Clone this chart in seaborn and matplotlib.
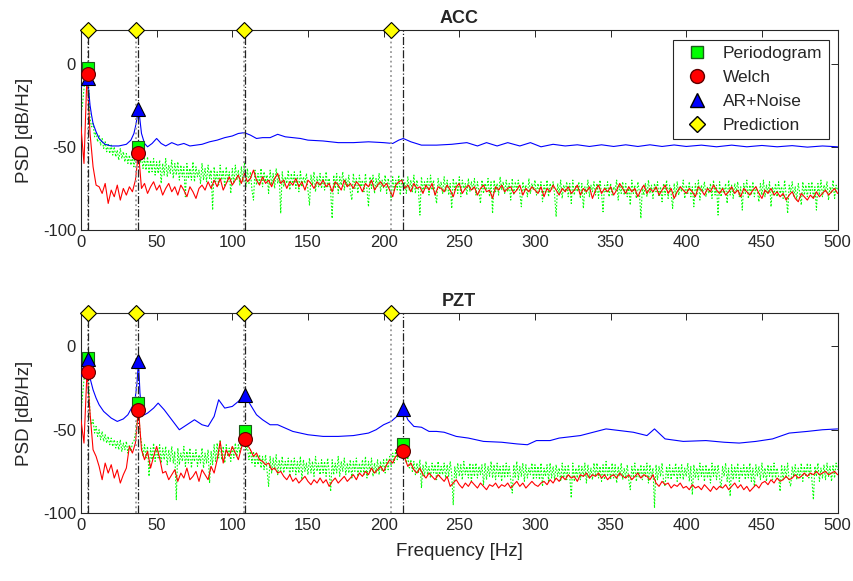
import numpy as np
import pandas as pd
import matplotlib
matplotlib.use("Agg")
import matplotlib.pyplot as plt
import seaborn as sns
from matplotlib.lines import Line2D

# ---------------- data ----------------
per_step = 1    # Hz grid of periodogram estimates
welch_step = 2  # Hz grid of Welch estimates

acc_periodogram = [
    -30, -25, -15, -6, -3, -12, -33, -38, -36, -44, -41, -47, -43, -49, -45, -51, -47, -53, -48, -54,
    -49, -55, -50, -56, -52, -58, -51, -57, -53, -59, -54, -60, -55, -61, -56, -62, -54, -52, -50, -60,
    -56, -63, -57, -64, -56, -66, -58, -65, -57, -67, -59, -66, -58, -72, -60, -67, -57, -68, -61, -66,
    -58, -69, -60, -67, -59, -70, -61, -68, -62, -80, -60, -69, -63, -70, -59, -71, -62, -68, -64, -72,
    -60, -70, -63, -71, -61, -69, -64, -88, -62, -71, -65, -73, -61, -70, -64, -74, -62, -71, -65, -78,
    -63, -72, -61, -70, -64, -73, -62, -71, -60, -74, -63, -72, -65, -76, -82, -64, -73, -66, -72, -63,
    -74, -65, -71, -67, -78, -64, -73, -66, -75, -63, -72, -67, -90, -65, -74, -68, -72, -64, -76, -66,
    -73, -65, -75, -67, -77, -64, -74, -68, -72, -66, -76, -85, -67, -73, -65, -77, -68, -74, -66, -75,
    -68, -76, -65, -74, -69, -77, -93, -67, -75, -66, -78, -68, -73, -65, -76, -69, -74, -67, -77, -82,
    -66, -75, -69, -78, -67, -74, -70, -77, -66, -76, -86, -68, -75, -67, -78, -69, -74, -66, -77, -70,
    -75, -67, -78, -69, -74, -82, -68, -77, -70, -76, -67, -79, -69, -75, -71, -78, -68, -76, -70, -77,
    -67, -78, -70, -76, -91, -68, -77, -71, -75, -69, -79, -67, -76, -70, -78, -84, -69, -75, -71, -78,
    -68, -77, -70, -79, -72, -87, -69, -76, -71, -78, -68, -80, -70, -75, -72, -79, -69, -77, -71, -76,
    -69, -79, -71, -77, -84, -70, -78, -72, -76, -69, -80, -71, -90, -70, -77, -72, -79, -68, -76, -71,
    -78, -70, -77, -72, -82, -69, -79, -71, -76, -70, -78, -86, -71, -77, -73, -80, -69, -78, -72, -76,
    -70, -79, -72, -77, -71, -83, -73, -78, -70, -80, -72, -76, -71, -79, -92, -72, -78, -70, -81, -73,
    -77, -71, -80, -72, -84, -70, -79, -73, -77, -71, -81, -72, -87, -74, -78, -70, -80, -73, -77, -71,
    -79, -72, -81, -70, -78, -89, -73, -77, -71, -80, -72, -79, -74, -76, -70, -82, -73, -78, -71, -79,
    -72, -80, -74, -85, -70, -78, -73, -81, -71, -77, -93, -74, -79, -72, -80, -70, -78, -73, -81, -72,
    -77, -71, -80, -74, -83, -72, -79, -70, -81, -73, -78, -87, -72, -80, -71, -79, -74, -77, -70, -81,
    -73, -78, -71, -80, -74, -86, -72, -79, -70, -82, -73, -77, -71, -80, -74, -78, -72, -81, -70, -79,
    -73, -91, -71, -80, -74, -78, -72, -84, -70, -79, -73, -81, -72, -77, -71, -80, -74, -88, -72, -78,
    -70, -81, -73, -79, -71, -80, -74, -77, -83, -72, -79, -70, -80, -73, -78, -71, -86, -74, -79, -72,
    -80, -71, -78, -74, -81, -70, -79, -90, -73, -77, -71, -80, -74, -82, -72, -78, -85, -71, -79, -73,
    -80, -72, -78, -71, -81, -74, -88, -72, -79, -70, -80, -73, -77, -71, -82, -74, -78, -70, -81, -73,
    -76,
]
acc_welch = [
    -38, -60, -6, -42, -62, -73, -74, -78, -72, -84,
    -76, -80, -73, -82, -75, -79, -74, -77, -70, -53,
    -75, -72, -78, -74, -71, -76, -73, -79, -75, -72,
    -77, -74, -79, -73, -76, -80, -74, -77, -81, -75,
    -73, -76, -71, -75, -70, -74, -69, -76, -72, -68,
    -73, -70, -67, -72, -66, -71, -69, -64, -70, -73,
    -68, -72, -70, -74, -69, -66, -72, -70, -75, -71,
    -73, -69, -74, -71, -76, -70, -72, -75, -71, -73,
    -70, -74, -72, -77, -71, -73, -76, -70, -74, -72,
    -75, -71, -73, -77, -72, -74, -70, -76, -73, -71,
    -74, -72, -76, -80, -73, -71, -70, -75, -73, -77,
    -72, -75, -74, -78, -73, -76, -72, -79, -74, -75,
    -77, -73, -76, -80, -74, -72, -78, -75, -73, -76,
    -74, -79, -75, -73, -77, -76, -81, -74, -76, -73,
    -77, -75, -74, -78, -76, -73, -79, -75, -77, -74,
    -76, -78, -74, -80, -75, -77, -73, -76, -79, -75,
    -77, -74, -78, -76, -73, -79, -75, -77, -74, -81,
    -76, -73, -78, -75, -77, -74, -79, -76, -72, -75,
    -78, -74, -77, -75, -80, -76, -73, -78, -75, -77,
    -74, -79, -76, -73, -78, -75, -81, -77, -74, -76,
    -78, -75, -77, -80, -74, -76, -79, -75, -77, -73,
    -76, -78, -75, -79, -77, -74, -78, -76, -80, -75,
    -77, -79, -76, -74, -78, -81, -76, -78, -75, -79,
    -77, -80, -78, -82, -79, -77, -81, -83, -78, -80,
    -82, -79, -81, -77, -80, -78, -76, -79, -77, -75,
    -78,
]
acc_ar_freq = [
    0, 1, 2, 3, 4, 5, 6, 7, 8, 10,
    12, 14, 16, 20, 25, 30, 33, 35, 36, 37,
    38, 39, 40, 42, 44, 47, 50, 53, 56, 60,
    64, 68, 72, 76, 80, 85, 90, 95, 100, 104,
    108, 112, 116, 120, 125, 130, 135, 140, 145, 150,
    160, 170, 180, 190, 200, 206, 210, 213, 218, 225,
    235, 245, 255, 262, 268, 275, 282, 290, 297, 304,
    312, 320, 328, 336, 344, 352, 360, 368, 376, 384,
    392, 400, 410, 420, 430, 440, 450, 460, 470, 480,
    490, 500,
]
acc_ar = [
    -14, -13, -12, -10, -7, -15, -25, -31, -36, -41,
    -45, -47, -48.5, -49.5, -49.5, -48.5, -46, -42, -38, -33,
    -26, -34, -42, -48, -50, -48, -45, -48, -49.5, -47.5,
    -49, -48, -49.5, -49, -48.5, -47, -46, -44.5, -43.5, -42,
    -41.5, -43, -45, -44.5, -44.5, -42.5, -44, -44.5, -45, -46,
    -46.5, -47.5, -47.5, -47, -47.5, -48, -46, -45, -47, -49,
    -49, -48.5, -47.5, -49.5, -47.5, -49.5, -47.5, -49.5, -47.5, -50,
    -48.5, -49.5, -48.8, -49.8, -48.8, -49.8, -48.8, -49.8, -48.8, -49.8,
    -48.9, -49.8, -49, -50, -49, -50, -49.2, -50, -49.3, -50.2,
    -49.5, -50,
]

pzt_periodogram = [
    -40, -30, -20, -12, -8, -18, -42, -47, -44, -52, -48, -54, -50, -56, -51, -57, -53, -58, -54, -59,
    -55, -60, -56, -61, -57, -62, -56, -63, -58, -62, -57, -64, -59, -63, -58, -57, -52, -45, -34, -52,
    -58, -66, -59, -67, -60, -78, -61, -68, -58, -69, -62, -67, -59, -70, -61, -68, -60, -71, -62, -69,
    -60, -70, -63, -92, -61, -71, -64, -69, -60, -72, -63, -70, -61, -73, -64, -69, -62, -72, -65, -70,
    -61, -73, -64, -70, -62, -82, -63, -71, -59, -69, -58, -67, -56, -68, -60, -70, -59, -66, -61, -69,
    -60, -67, -58, -66, -59, -64, -56, -60, -51, -62, -60, -68, -62, -70, -63, -72, -64, -71, -65, -73,
    -66, -74, -65, -75, -84, -66, -76, -67, -74, -65, -77, -68, -75, -66, -76, -69, -74, -67, -78, -68,
    -75, -67, -77, -69, -76, -66, -80, -68, -75, -70, -77, -67, -76, -69, -78, -66, -75, -70, -77, -68,
    -76, -69, -78, -67, -75, -87, -68, -77, -70, -76, -66, -78, -69, -75, -67, -77, -70, -76, -68, -79,
    -69, -75, -67, -78, -70, -76, -68, -77, -66, -79, -69, -75, -67, -78, -70, -76, -68, -77, -69, -75,
    -68, -76, -67, -74, -66, -72, -64, -70, -62, -68, -61, -66, -60, -59, -64, -70, -66, -73, -68, -75,
    -69, -77, -70, -76, -68, -85, -71, -78, -69, -77, -72, -79, -70, -76, -71, -80, -69, -78, -72, -77,
    -70, -79, -71, -78, -69, -77, -95, -72, -79, -70, -78, -71, -80, -69, -77, -72, -79, -70, -81, -71,
    -78, -70, -79, -72, -77, -71, -83, -70, -80, -72, -78, -69, -79, -71, -80, -70, -78, -72, -81, -71,
    -79, -70, -78, -72, -80, -88, -71, -79, -69, -80, -72, -78, -70, -81, -71, -79, -73, -77, -70, -80,
    -71, -79, -72, -80, -70, -84, -73, -78, -71, -81, -70, -79, -72, -80, -71, -78, -73, -81, -70, -79,
    -72, -80, -71, -78, -91, -70, -81, -73, -79, -71, -80, -72, -78, -70, -82, -71, -79, -73, -80, -70,
    -78, -70, -79, -72, -81, -71, -80, -69, -78, -72, -80, -70, -79, -71, -82, -72, -78, -70, -80, -73,
    -79, -71, -80, -86, -72, -78, -70, -81, -73, -79, -71, -80, -72, -78, -70, -82, -71, -79, -73, -97,
    -71, -80, -72, -78, -70, -81, -84, -72, -79, -71, -80, -73, -78, -70, -81, -72, -79, -71, -80, -73,
    -78, -70, -81, -72, -89, -71, -79, -73, -80, -70, -78, -72, -81, -71, -79, -73, -82, -70, -78, -72,
    -80, -71, -79, -85, -72, -78, -70, -81, -73, -90, -71, -80, -72, -79, -70, -81, -73, -78, -71, -80,
    -72, -79, -70, -81, -73, -84, -71, -78, -72, -80, -70, -79, -73, -81, -71, -78, -72, -80, -70, -79,
    -73, -78, -87, -71, -80, -72, -79, -70, -81, -84, -72, -78, -71, -80, -73, -79, -70, -81, -72, -78,
    -70, -79, -71, -80, -92, -72, -78, -70, -81, -73, -79, -71, -80, -70, -78, -72, -81, -71, -79, -70,
    -74,
]
pzt_welch = [
    -44, -58, -15, -40, -62, -66, -72, -80, -70, -76,
    -71, -79, -74, -82, -77, -73, -60, -64, -58, -37,
    -62, -68, -63, -73, -66, -60, -67, -76, -75, -80,
    -77, -74, -81, -76, -79, -73, -80, -78, -75, -81,
    -74, -77, -80, -72, -76, -68, -57, -70, -62, -66,
    -60, -64, -68, -61, -55, -59, -62, -66, -64, -68,
    -69, -71, -70, -74, -73, -76, -75, -78, -80, -77,
    -81, -79, -82, -80, -78, -81, -83, -80, -82, -79,
    -82, -80, -84, -81, -79, -82, -80, -78, -81, -79,
    -77, -80, -76, -78, -75, -77, -73, -76, -74, -72,
    -75, -71, -68, -70, -66, -65, -63, -67, -72, -70,
    -74, -76, -73, -77, -79, -76, -78, -80, -77, -79,
    -81, -78, -84, -82, -80, -83, -85, -82, -84, -81,
    -83, -85, -82, -84, -86, -83, -84, -82, -85, -83,
    -84, -82, -85, -83, -81, -84, -82, -85, -83, -81,
    -83, -84, -82, -81, -83, -80, -82, -79, -81, -78,
    -80, -77, -79, -78, -81, -77, -78, -76, -79, -77,
    -78, -76, -79, -77, -80, -78, -77, -79, -76, -78,
    -79, -77, -80, -78, -76, -79, -77, -78, -80, -77,
    -82, -84, -81, -83, -82, -85, -83, -84, -82, -85,
    -84, -86, -83, -85, -84, -86, -83, -85, -87, -84,
    -86, -84, -85, -83, -86, -84, -82, -85, -83, -86,
    -84, -87, -85, -83, -85, -82, -81, -83, -80, -82,
    -79, -81, -80, -78, -80, -79, -77, -79, -78, -76,
    -78, -76, -77, -75, -77, -76, -75, -77, -76, -75,
    -77,
]
pzt_ar_freq = [
    0, 1, 2, 3, 4, 5, 6, 8, 10, 12,
    15, 20, 24, 28, 31, 34, 36, 37, 38, 39,
    40, 42, 44, 48, 51, 55, 60, 65, 70, 75,
    80, 84, 88, 91, 95, 100, 104, 108, 112, 116,
    120, 125, 130, 135, 140, 150, 160, 170, 180, 190,
    195, 200, 205, 210, 213, 216, 220, 225, 230, 235,
    240, 248, 256, 266, 278, 288, 295, 301, 310, 316,
    330, 347, 356, 365, 374, 379, 386, 398, 413, 425,
    435, 446, 457, 468, 480, 490, 500,
]
pzt_ar = [
    -18, -14, -11, -9, -7, -13, -19, -26, -31, -35,
    -39, -43, -45, -43.5, -41, -36, -30, -22, -9, -28,
    -38, -41, -40, -37, -34, -38, -44, -50, -47, -44,
    -47, -48, -42, -32, -37, -36, -33, -29, -35, -41,
    -44, -47, -47, -49, -51, -53, -54, -54, -53.5, -52,
    -50, -47, -45, -41, -37, -44, -48, -48.5, -51, -51,
    -51.5, -54, -55, -57, -57.5, -58.5, -59, -56.5, -56.5, -55,
    -53.5, -49.5, -50.5, -51.5, -53.5, -49.5, -55.5, -57, -56.5, -57.5,
    -58, -57, -55.5, -52, -51, -50, -49.5,
]

prediction_freq = [4.5, 36.5, 107.5, 205]
acc_peak_freq = [4.5, 38, 108.3, 212.7]
pzt_peak_freq = [4.5, 38, 108.3, 212.7]

acc_mark_freq = [4.5, 38]
acc_mark_per = [-2.5, -50]
acc_mark_welch = [-6, -53.5]
acc_mark_ar = [-8.5, -27.5]

pzt_mark_freq = [4.5, 38, 108.3, 212.7]
pzt_mark_per = [-7, -34, -51, -58.5]
pzt_mark_welch = [-15.5, -38, -55.5, -63]
pzt_mark_ar = [-7.5, -9, -29, -37.5]

titles = ["ACC", "PZT"]
legend_labels = ["Periodogram", "Welch", "AR+Noise", "Prediction"]

# ---------------- style ----------------
sns.set_style("white")
plt.rcParams["font.family"] = ["Liberation Sans", "DejaVu Sans"]
plt.rcParams["axes.unicode_minus"] = False
plt.rcParams["axes.edgecolor"] = "#262626"
plt.rcParams["xtick.color"] = "#262626"
plt.rcParams["ytick.color"] = "#262626"

fig = plt.figure(figsize=(8.54, 5.81), dpi=100)
ax1 = fig.add_axes([0.0948, 0.604, 0.886, 0.344])
ax2 = fig.add_axes([0.0948, 0.117, 0.886, 0.344])

GREEN = "#00FF00"
RED = "#FF0000"
BLUE = "#0000FF"
YELLOW = "#FFFF00"


def panel(ax, title, per, welch, ar_f, ar_v, peak_f, mk_f, mk_p, mk_w, mk_a):
    dper = pd.DataFrame({"f": np.arange(len(per)) * per_step, "v": per})
    dwel = pd.DataFrame({"f": np.arange(len(welch)) * welch_step, "v": welch})
    dar = pd.DataFrame({"f": ar_f, "v": ar_v})
    sns.lineplot(data=dper, x="f", y="v", ax=ax, color=GREEN, lw=0.8,
                 linestyle=(0, (1.5, 1.5)), zorder=2, legend=False)
    sns.lineplot(data=dwel, x="f", y="v", ax=ax, color=RED, lw=0.8,
                 zorder=3, legend=False)
    sns.lineplot(data=dar, x="f", y="v", ax=ax, color=BLUE, lw=0.8,
                 zorder=4, legend=False)
    for pf in prediction_freq:
        ax.axvline(pf, color="#999999", lw=1.3, linestyle=":", zorder=5)
    for pk in peak_f:
        ax.axvline(pk, color="#222222", lw=0.9, linestyle="-.", zorder=5)
    ax.plot(mk_f, mk_p, linestyle="none", marker="s", ms=8, mfc=GREEN,
            mec="#1a5c1a", mew=0.8, zorder=6)
    ax.plot(mk_f, mk_w, linestyle="none", marker="o", ms=10, mfc=RED,
            mec="#5c0000", mew=0.8, zorder=7)
    ax.plot(mk_f, mk_a, linestyle="none", marker="^", ms=10, mfc=BLUE,
            mec="black", mew=0.8, zorder=6)
    ax.plot(prediction_freq, [20] * len(prediction_freq), linestyle="none",
            marker="D", ms=8, mfc=YELLOW, mec="black", mew=0.8,
            clip_on=False, zorder=8)
    ax.set_xlim(0, 500)
    ax.set_ylim(-100, 20)
    ax.set_xticks(np.arange(0, 501, 50))
    ax.set_yticks([-100, -50, 0])
    ax.tick_params(direction="in", top=True, right=True, length=5,
                   labelsize=12, width=0.7)
    ax.set_title(title, fontsize=13, fontweight="bold", pad=5)
    ax.set_ylabel("PSD [dB/Hz]", fontsize=13.5, labelpad=7)
    ax.set_xlabel("")
    for s in ax.spines.values():
        s.set_linewidth(0.8)


panel(ax1, titles[0], acc_periodogram, acc_welch, acc_ar_freq, acc_ar,
      acc_peak_freq, acc_mark_freq, acc_mark_per, acc_mark_welch, acc_mark_ar)
panel(ax2, titles[1], pzt_periodogram, pzt_welch, pzt_ar_freq, pzt_ar,
      pzt_peak_freq, pzt_mark_freq, pzt_mark_per, pzt_mark_welch, pzt_mark_ar)
ax2.set_xlabel("Frequency [Hz]", fontsize=13.5, labelpad=7)

handles = [
    Line2D([], [], linestyle="none", marker="s", ms=8, mfc=GREEN, mec="#1a5c1a"),
    Line2D([], [], linestyle="none", marker="o", ms=10, mfc=RED, mec="#5c0000"),
    Line2D([], [], linestyle="none", marker="^", ms=10, mfc=BLUE, mec="black"),
    Line2D([], [], linestyle="none", marker="D", ms=8, mfc=YELLOW, mec="black"),
]
leg = ax1.legend(handles, legend_labels,
                 loc="upper right", bbox_to_anchor=(0.988, 0.95), borderaxespad=0,
                 fontsize=12.5, frameon=True, fancybox=False, framealpha=1,
                 edgecolor="#262626", handletextpad=0.5, borderpad=0.35,
                 labelspacing=0.5, handlelength=2.0)
leg.get_frame().set_linewidth(0.8)
leg.set_zorder(20)

fig.savefig("out.png", dpi=100)
